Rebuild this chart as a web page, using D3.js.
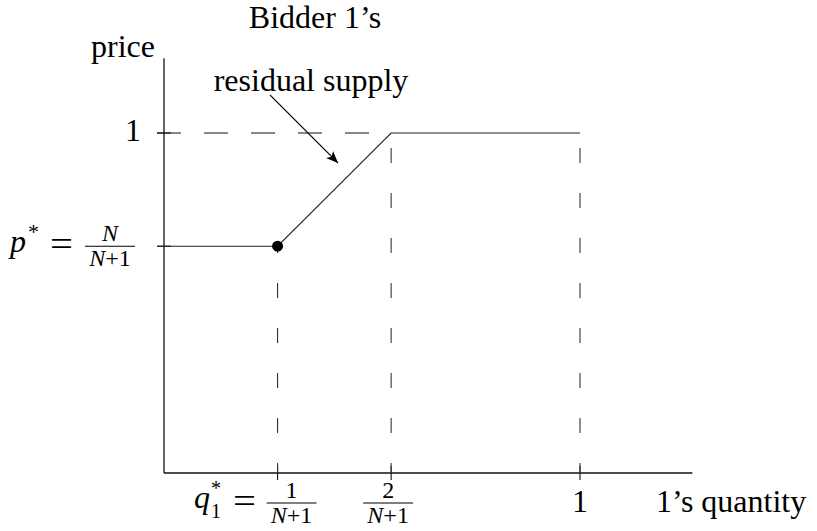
<!DOCTYPE html>
<html>
<head>
<meta charset="utf-8">
<script src="https://cdn.jsdelivr.net/npm/d3@7"></script>
<style>
  body { margin: 0; background: #fff; }
  text { font-family: "Liberation Serif", "Times New Roman", serif; fill: #000; }
</style>
</head>
<body>
<svg id="svg" width="817" height="531"></svg>
<script>
// values (schematic units)
let qStar = 0.273, q2 = 0.546, pStar = 0.667;
let supplyQ = [0, qStar, q2, 1];
let supplyP = [pStar, pStar, 1, 1];
let qTicks = [qStar, q2, 1];
let pTicks = [pStar, 1];
let axisMax = [1.27, 1.22];

let width = 817, height = 531;
let svg = d3.select('#svg');

let x = d3.scaleLinear().domain([0, 1]).range([164, 580]);
let y = d3.scaleLinear().domain([0, 1]).range([473, 133]);

let tick = 7;
let fs = '32px';

// axes
svg.append('line')
    .attr('x1', x(0)).attr('y1', y(0)).attr('x2', x(0)).attr('y2', y(axisMax[1]))
    .attr('stroke', '#111').attr('stroke-width', 1.3);
svg.append('line')
    .attr('x1', x(0)).attr('y1', y(0)).attr('x2', x(axisMax[0])).attr('y2', y(0))
    .attr('stroke', '#111').attr('stroke-width', 1.3);

// tick marks
svg.selectAll('.xt').data(qTicks).enter().append('line')
    .attr('x1', d => x(d)).attr('x2', d => x(d))
    .attr('y1', y(0) - tick).attr('y2', y(0) + tick)
    .attr('stroke', '#111').attr('stroke-width', 1.1);
svg.selectAll('.yt').data(pTicks).enter().append('line')
    .attr('y1', d => y(d)).attr('y2', d => y(d))
    .attr('x1', x(0) - tick).attr('x2', x(0) + tick)
    .attr('stroke', '#111').attr('stroke-width', 1.1);

// dashed horizontal at price 1
svg.append('line')
    .attr('x1', x(0) - tick).attr('x2', x(q2))
    .attr('y1', y(1)).attr('y2', y(1))
    .attr('stroke', '#111').attr('stroke-width', 1.1)
    .attr('stroke-dasharray', '24,23');

// dashed verticals, dashes aligned on one grid
let topY = y(1);
function vdash(q, p) {
    let y0 = y(p);
    let off = (30 + (y0 - topY)) % 45;
    svg.append('line')
        .attr('x1', x(q)).attr('x2', x(q))
        .attr('y1', y0).attr('y2', y(0))
        .attr('stroke', '#333').attr('stroke-width', 1.1)
        .attr('stroke-dasharray', '15,30')
        .attr('stroke-dashoffset', off);
}
vdash(qStar, pStar);
vdash(q2, 1);
vdash(1, 1);

// residual supply
let line = d3.line()
    .x(function (d, i) { return i === 0 ? x(d) - tick : x(d); })
    .y(function (d, i) { return y(supplyP[i]); });
svg.append('path')
    .datum(supplyQ)
    .attr('fill', 'none')
    .attr('stroke', '#222')
    .attr('stroke-width', 1.1)
    .attr('d', line);

svg.append('circle')
    .attr('cx', x(qStar)).attr('cy', y(pStar)).attr('r', 5.5)
    .attr('fill', '#000');

// arrow
svg.append('defs').append('marker')
    .attr('id', 'arr')
    .attr('viewBox', '0 0 12 10')
    .attr('refX', 12).attr('refY', 5)
    .attr('markerWidth', 12).attr('markerHeight', 10)
    .attr('markerUnits', 'userSpaceOnUse')
    .attr('orient', 'auto')
    .append('path').attr('d', 'M0,0 L12,5 L0,10 L3,5 Z').attr('fill', '#000');
svg.append('line')
    .attr('x1', 270).attr('y1', 95).attr('x2', 338).attr('y2', 163)
    .attr('stroke', '#111').attr('stroke-width', 1.1)
    .attr('marker-end', 'url(#arr)');

// texts
svg.append('text').attr('x', 315).attr('y', 28).attr('text-anchor', 'middle')
    .style('font-size', fs).text('Bidder 1’s');
svg.append('text').attr('x', 155).attr('y', 57).attr('text-anchor', 'end')
    .style('font-size', fs).text('price');
svg.append('text').attr('x', 311).attr('y', 91).attr('text-anchor', 'middle')
    .style('font-size', fs).text('residual supply');
svg.append('text').attr('x', 141).attr('y', y(1) + 8).attr('text-anchor', 'end')
    .style('font-size', fs).text('1');
svg.append('text').attr('x', x(1)).attr('y', 512).attr('text-anchor', 'middle')
    .style('font-size', fs).text('1');
svg.append('text').attr('x', 656).attr('y', 512)
    .style('font-size', fs).text('1’s quantity');

function frac(cx, barY, num) {
    svg.append('line').attr('x1', cx - 25).attr('x2', cx + 25)
        .attr('y1', barY).attr('y2', barY).attr('stroke', '#000').attr('stroke-width', 1.1);
    let t = svg.append('text').attr('x', cx).attr('y', barY - 5).attr('text-anchor', 'middle')
        .style('font-size', '24px');
    t.append('tspan').style('font-style', num === 'N' ? 'italic' : 'normal').text(num);
    let b = svg.append('text').attr('x', cx).attr('y', barY + 20).attr('text-anchor', 'middle')
        .style('font-size', '24px');
    b.append('tspan').style('font-style', 'italic').text('N');
    b.append('tspan').text('+1');
}

function eq(x0, base) {
    svg.append('text').attr('x', x0).attr('y', base).style('font-size', '36px')
        .attr('textLength', 23).attr('lengthAdjust', 'spacingAndGlyphs').text('=');
}

// p* label
let pb = y(pStar);
let pt = svg.append('text').attr('x', 10).attr('y', pb + 6).style('font-size', fs);
pt.append('tspan').style('font-style', 'italic').text('p');
pt.append('tspan').attr('x', 28).attr('dy', -13).style('font-size', '22px').text('*');
eq(50, pb + 10);
frac(110, pb, 'N');

// q* label
let qb = 503;
let qt = svg.append('text').attr('x', 194).attr('y', qb + 5).style('font-size', fs);
qt.append('tspan').style('font-style', 'italic').text('q');
qt.append('tspan').attr('x', 211).attr('dy', -13).style('font-size', '20px').text('*');
qt.append('tspan').attr('x', 211).attr('dy', 23).style('font-size', '20px').text('1');
eq(233, qb + 10);
frac(x(qStar) + 14, qb, '1');
frac(x(q2) - 3, qb, '2');
</script>
</body>
</html>
